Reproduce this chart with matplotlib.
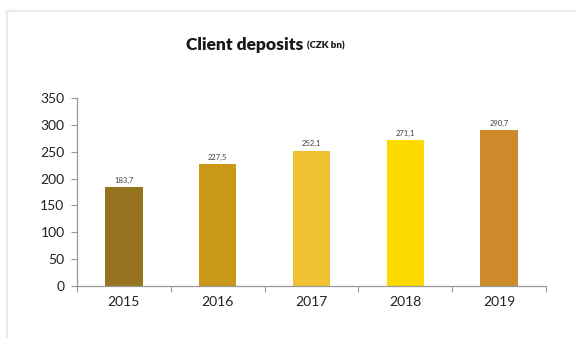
import matplotlib
matplotlib.use("Agg")
import matplotlib.pyplot as plt
from matplotlib.lines import Line2D
import numpy as np

years = ["2015", "2016", "2017", "2018", "2019"]
deposits = [183.7, 227.5, 252.1, 271.1, 290.7]
value_labels = ["183,7", "227,5", "252,1", "271,1", "290,7"]
bar_colors = ["#96741F", "#C89816", "#F0C232", "#FEDB00", "#CD8A2A"]
y_ticks = [0, 50, 100, 150, 200, 250, 300, 350]

fig = plt.figure(figsize=(5.76, 3.38), dpi=100)
fig.patch.set_facecolor("white")

# light frame along the top and left edges
fig.add_artist(Line2D([7 / 576, 1.0], [1 - 10.5 / 338, 1 - 10.5 / 338],
                      transform=fig.transFigure, color="#ebebeb", lw=1.6))
fig.add_artist(Line2D([7 / 576, 7 / 576], [0, 1 - 10.5 / 338],
                      transform=fig.transFigure, color="#ebebeb", lw=1.6))

ax = fig.add_axes([77 / 576, 1 - 286 / 338, (546 - 77) / 576, (286 - 98) / 338])
x = np.arange(len(years))
ax.bar(x, deposits, width=0.4, color=bar_colors, zorder=2)
for xi, v, lab in zip(x, deposits, value_labels):
    ax.text(xi, v + 6, lab, ha="center", va="bottom", fontsize=5.5,
            color="#404040", family="Lato")

ax.set_xlim(-0.5, len(years) - 0.5)
ax.set_ylim(0, 350)
ax.set_yticks(y_ticks)
ax.set_yticklabels([str(t) for t in y_ticks], family="Lato", fontsize=10, color="#222222")
ax.set_xticks(x)
ax.set_xticklabels(years, family="Lato", fontsize=10, color="#222222")
ax.tick_params(axis="x", length=0, pad=7)
ax.tick_params(axis="y", length=4, color="#999999", width=0.8, pad=5)
# category boundary ticks on the x axis
ax.set_xticks(np.arange(-0.5, len(years)), minor=True)
ax.tick_params(axis="x", which="minor", length=4, color="#999999", width=0.8)

for side in ["top", "right"]:
    ax.spines[side].set_visible(False)
for side in ["left", "bottom"]:
    ax.spines[side].set_color("#999999")
    ax.spines[side].set_linewidth(0.9)

fig.text(303 / 576, 1 - 45 / 338, "Client deposits", ha="right", va="center",
         fontsize=12.5, fontweight="heavy", family="Lato", color="#1a1a1a")
fig.text(307 / 576, 1 - 46 / 338, "(CZK bn)", ha="left", va="center",
         fontsize=7, fontweight="heavy", family="Lato", color="#1a1a1a")

fig.savefig("out.png", dpi=100, facecolor="white")
